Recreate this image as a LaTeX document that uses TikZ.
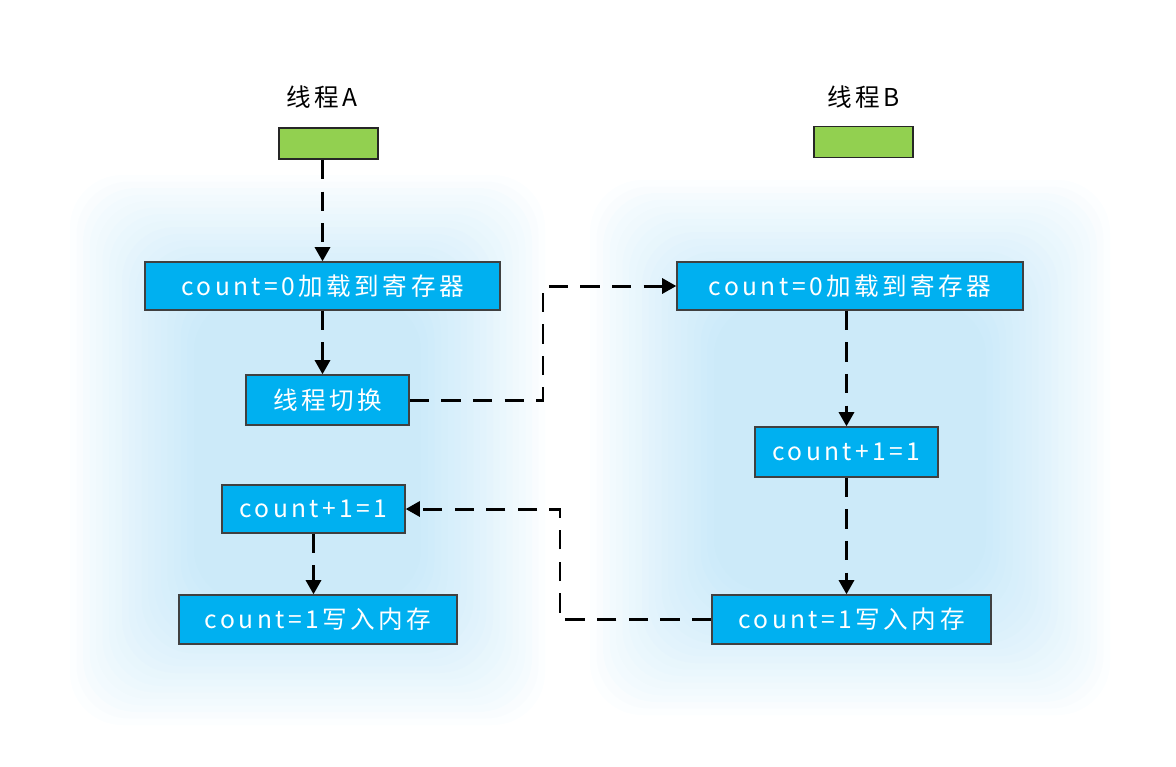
\documentclass[tikz,border=0pt]{standalone}
\usepackage{fontspec}
\setmainfont{Noto Sans CJK SC}
\usetikzlibrary{arrows.meta}
\definecolor{opblue}{HTML}{00B0F0}
\definecolor{thrgreen}{HTML}{92D050}
\definecolor{glow}{RGB}{120,200,240}

\begin{document}
\begin{tikzpicture}[
  font=\fontsize{14}{16}\selectfont\addfontfeature{LetterSpace=14},
  thr/.style={draw=black!85, line width=1pt, fill=thrgreen, minimum width=1.98cm, minimum height=0.62cm, inner sep=0pt},
  op/.style={draw=black!75, line width=0.8pt, fill=opblue, text=white, minimum height=0.96cm, inner sep=0pt},
  e1/.style={line width=1.7pt, dash pattern=on 11pt off 7pt, -{Triangle[length=8pt,width=8.5pt]}}]
\useasboundingbox (0,0) rectangle (23.52,-15.32);
% glow behind both threads
\foreach \i in {0,...,19} {
  \fill[glow, opacity=0.022, rounded corners=30pt] (1.4+\i*0.13,-3.5-\i*0.13) rectangle (10.9-\i*0.13,-14.5+\i*0.13);
  \fill[glow, opacity=0.022, rounded corners=30pt] (11.8+\i*0.13,-3.6-\i*0.13) rectangle (22.2-\i*0.13,-14.3+\i*0.13);
}
% Thread A (left)
\node (la) at (6.44,-1.94) {线程A};
\node[thr] (ga) at (6.57,-2.87) {};
\node[op, minimum width=7.1cm] (a1) at (6.45,-5.72) {count=0加载到寄存器};
\node[op, minimum width=3.26cm, minimum height=1cm] (a2) at (6.55,-8.0) {线程切换};
\node[op, minimum width=3.66cm] (a3) at (6.27,-10.18) {count+1=1};
\node[op, minimum width=5.56cm, minimum height=0.98cm] (a4) at (6.36,-12.39) {count=1写入内存};
% Thread B (right)
\node (lb) at (17.28,-1.94) {线程B};
\node[thr] (gb) at (17.27,-2.84) {};
\node[op, minimum width=6.92cm] (b1) at (17.0,-5.72) {count=0加载到寄存器};
\node[op, minimum width=3.66cm, minimum height=1cm] (b2) at (16.93,-9.04) {count+1=1};
\node[op, minimum width=5.58cm, minimum height=0.98cm] (b3) at (17.03,-12.39) {count=1写入内存};
% connectors
\coordinate (m1) at (10.86,0);
\coordinate (m2) at (11.2,0);
\draw[e1] (ga.south -| a1) -- (a1.north);
\draw[e1] (a1.south) -- (a1.south |- a2.north);
\draw[e1] (a3.south) -- (a3.south |- a4.north);
\draw[e1] (a2.east) -- (a2.east -| m1) |- (b1.west);
\draw[e1] (b1.south -| b2) -- (b2.north);
\draw[e1] (b2.south) -- (b2.south |- b3.north);
\draw[e1] (b3.west) -- (b3.west -| m2) |- (a3.east);
\end{tikzpicture}
\end{document}
